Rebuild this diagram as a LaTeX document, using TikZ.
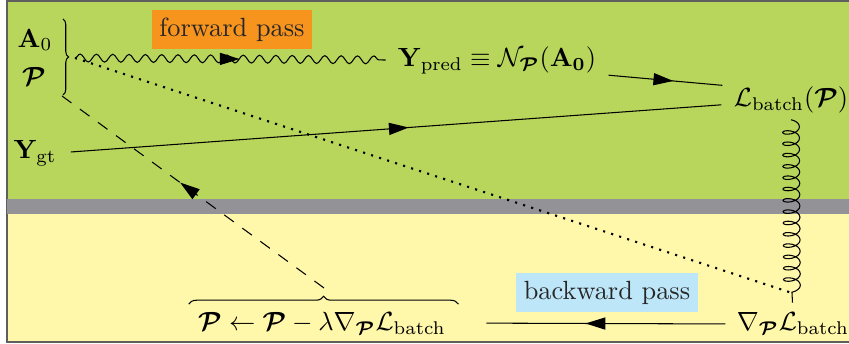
\documentclass[tikz,border=0pt]{standalone}
\usepackage{amsmath,amssymb,bm}
\usetikzlibrary{arrows.meta,decorations.pathmorphing,decorations.pathreplacing,decorations.markings}

\definecolor{fwdgreen}{RGB}{184,214,92}
\definecolor{sepgray}{RGB}{147,147,151}
\definecolor{bwdyellow}{RGB}{255,247,170}
\definecolor{fwdorange}{RGB}{247,148,30}
\definecolor{bwdblue}{RGB}{189,230,248}
\definecolor{framegray}{RGB}{95,95,95}

\begin{document}
\begin{tikzpicture}[
    x=0.38pt,
    y=-0.38pt,
    every node/.style={inner sep=0pt},
    passbox/.style={inner xsep=3pt, inner ysep=3pt, text height=7pt, text depth=2pt, text=black!85},
    midarrow/.style={postaction={decorate}, decoration={markings, mark=at position #1 with {\arrow{Triangle[length=7.5pt,width=4.6pt]}}}},
    wiggle/.style={decorate, decoration={snake, amplitude=1.5pt, segment length=6.2pt}},
    spring/.style={decorate, decoration={coil, amplitude=3.2pt, segment length=4.3pt}},
    dotline/.style={line width=0.8pt, dash pattern=on 0.8pt off 2.4pt},
    dashline/.style={dash pattern=on 4.5pt off 4pt},
    bracket/.style={decorate, decoration={brace, amplitude=#1}}
]
\useasboundingbox (0,0) rectangle (849,344);

% Panels
\fill[fwdgreen] (7,1) rectangle (849,199);
\fill[bwdyellow] (7,214) rectangle (849,342);
\draw[framegray, line width=0.8pt] (849,1) -- (7,1) -- (7,342) -- (849,342);
\fill[sepgray] (7,199) rectangle (849,214);

% Labels of the passes
\node[fill=fwdorange, passbox] (fwd) at (232,29.5) {forward pass};
\node[fill=bwdblue, passbox] (bwd) at (607,292.7) {backward pass};

% Terms
\node (a0) at (35,40) {$\mathbf{A}_0$};
\node (pp) at (34,76) {$\bm{\mathcal{P}}$};
\node (ygt) at (35,153) {$\mathbf{Y}_{\text{gt}}$};
\node (ypred) at (497,60) {$\mathbf{Y}_{\text{pred}} \equiv \mathcal{N}_{\bm{\mathcal{P}}}(\mathbf{A_0})$};
\node (loss) at (791,100) {$\mathcal{L}_{\text{batch}}(\bm{\mathcal{P}})$};
\node (grad) at (793,324) {$\nabla_{\bm{\mathcal{P}}}\mathcal{L}_{\text{batch}}$};
\node (update) at (322,323) {$\bm{\mathcal{P}} \leftarrow \bm{\mathcal{P}} - \lambda\nabla_{\bm{\mathcal{P}}}\mathcal{L}_{\text{batch}}$};

% Vertices
\coordinate (v) at (75,58);
\coordinate (plow) at (62,96);
\coordinate (w) at (792,293);
\coordinate (btip) at (324,288);

% Braces
\draw[bracket=2.1pt] (63,19) -- (63,95);
\draw[bracket=3pt] ([xshift=-3.4pt,yshift=2.7pt]update.north west) -- ([xshift=4.6pt,yshift=2.7pt]update.north east);

% Forward pass
\draw[wiggle] (v) -- ([xshift=-4.5pt]ypred.west);
\path[midarrow=0.53] (v) -- ([xshift=-4.5pt]ypred.west);
\draw[midarrow=0.56, shorten <=4.6pt, shorten >=4.2pt] (ypred.south east) -- (loss.north west);
\draw[midarrow=0.52, shorten <=5.3pt, shorten >=4.6pt] (ygt.east) -- ([yshift=-1.5pt]loss.west);

% Backward pass
\draw[spring] ([yshift=-2.3pt]loss.south) -- (w);
\draw[shorten >=3.7pt] (w) -- (grad.north);
\draw[dotline] (v) -- (w);
\draw[midarrow=0.52, shorten <=4.2pt, shorten >=15.2pt] (grad.west) -- (update.east);
\draw[dashline, midarrow=0.55] (btip) -- (plow);

\end{tikzpicture}
\end{document}
